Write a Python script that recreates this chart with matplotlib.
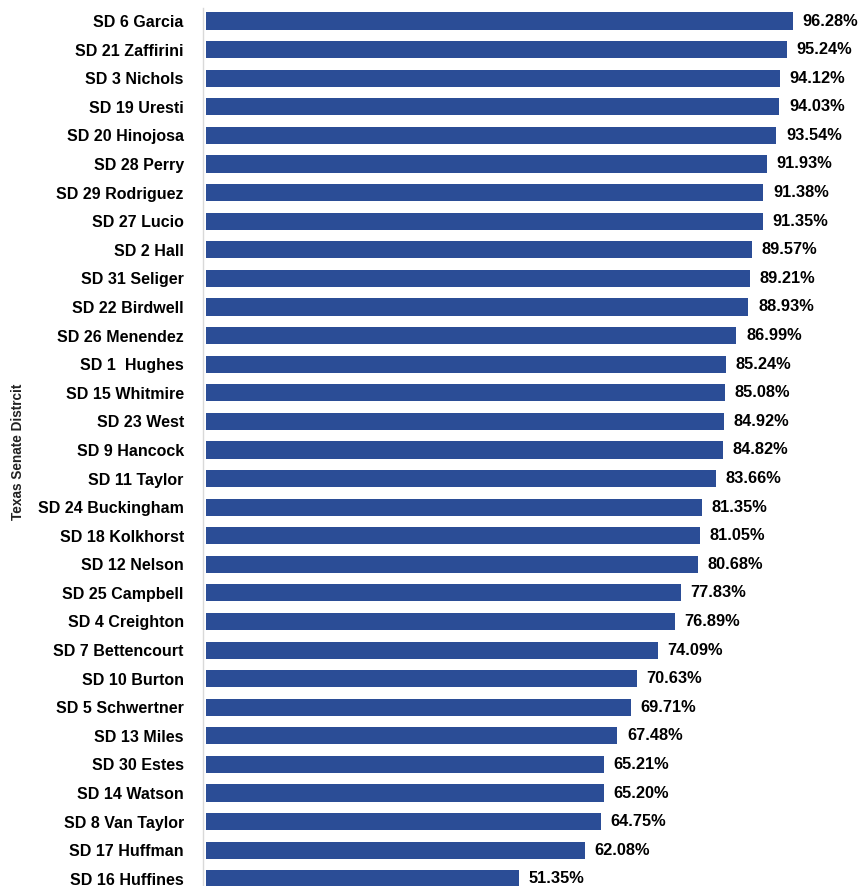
import matplotlib.pyplot as plt

plt.rcParams['font.family'] = ['Liberation Sans', 'DejaVu Sans']
plt.rcParams['font.weight'] = 'bold'

districts = ['SD 6 Garcia', 'SD 21 Zaffirini', 'SD 3 Nichols', 'SD 19 Uresti',
             'SD 20 Hinojosa', 'SD 28 Perry', 'SD 29 Rodriguez', 'SD 27 Lucio',
             'SD 2 Hall', 'SD 31 Seliger', 'SD 22 Birdwell', 'SD 26 Menendez',
             'SD 1  Hughes', 'SD 15 Whitmire', 'SD 23 West', 'SD 9 Hancock',
             'SD 11 Taylor', 'SD 24 Buckingham', 'SD 18 Kolkhorst', 'SD 12 Nelson',
             'SD 25 Campbell', 'SD 4 Creighton', 'SD 7 Bettencourt', 'SD 10 Burton',
             'SD 5 Schwertner', 'SD 13 Miles', 'SD 30 Estes', 'SD 14 Watson',
             'SD 8 Van Taylor', 'SD 17 Huffman', 'SD 16 Huffines']
pct = [96.28, 95.24, 94.12, 94.03, 93.54, 91.93, 91.38, 91.35, 89.57, 89.21,
       88.93, 86.99, 85.24, 85.08, 84.92, 84.82, 83.66, 81.35, 81.05, 80.68,
       77.83, 76.89, 74.09, 70.63, 69.71, 67.48, 65.21, 65.20, 64.75, 62.08,
       51.35]

W, H = 864, 886
fig = plt.figure(figsize=(W / 100, H / 100), dpi=100)
# axes from x=206px to right edge, y from 8px to bottom
ax = fig.add_axes([206 / W, 0, 1 - 206 / W, 1 - 8 / H])

y = list(range(len(districts)))
ax.barh(y, pct, height=0.6, color='#2B4D96')
for yi, v in zip(y, pct):
    ax.text(v + 1.6, yi, f'{v:.2f}%', va='center', ha='left',
            fontsize=11.8, fontweight='bold', color='black')

ax.set_xlim(0, (W - 206) / 6.098)
ax.set_ylim(30.25, -0.455)
ax.tick_params(axis='y', length=0, pad=14, labelsize=11.5)
ax.set_yticks(y)
ax.set_yticklabels(districts, fontweight='bold', fontsize=11.5)
ax.set_xticks([])
for s in ['top', 'right', 'bottom']:
    ax.spines[s].set_visible(False)
ax.spines['left'].set_color('#d9d9d9')
ax.spines['left'].set_linewidth(1)
ax.spines['left'].set_position(('outward', 2))

fig.text(18 / W, 1 - 452 / H, 'Texas Senate Distrcit', rotation=90,
         ha='center', va='center', fontsize=9.8, fontweight='bold',
         color='#222222')

fig.savefig('out.png', dpi=100)
